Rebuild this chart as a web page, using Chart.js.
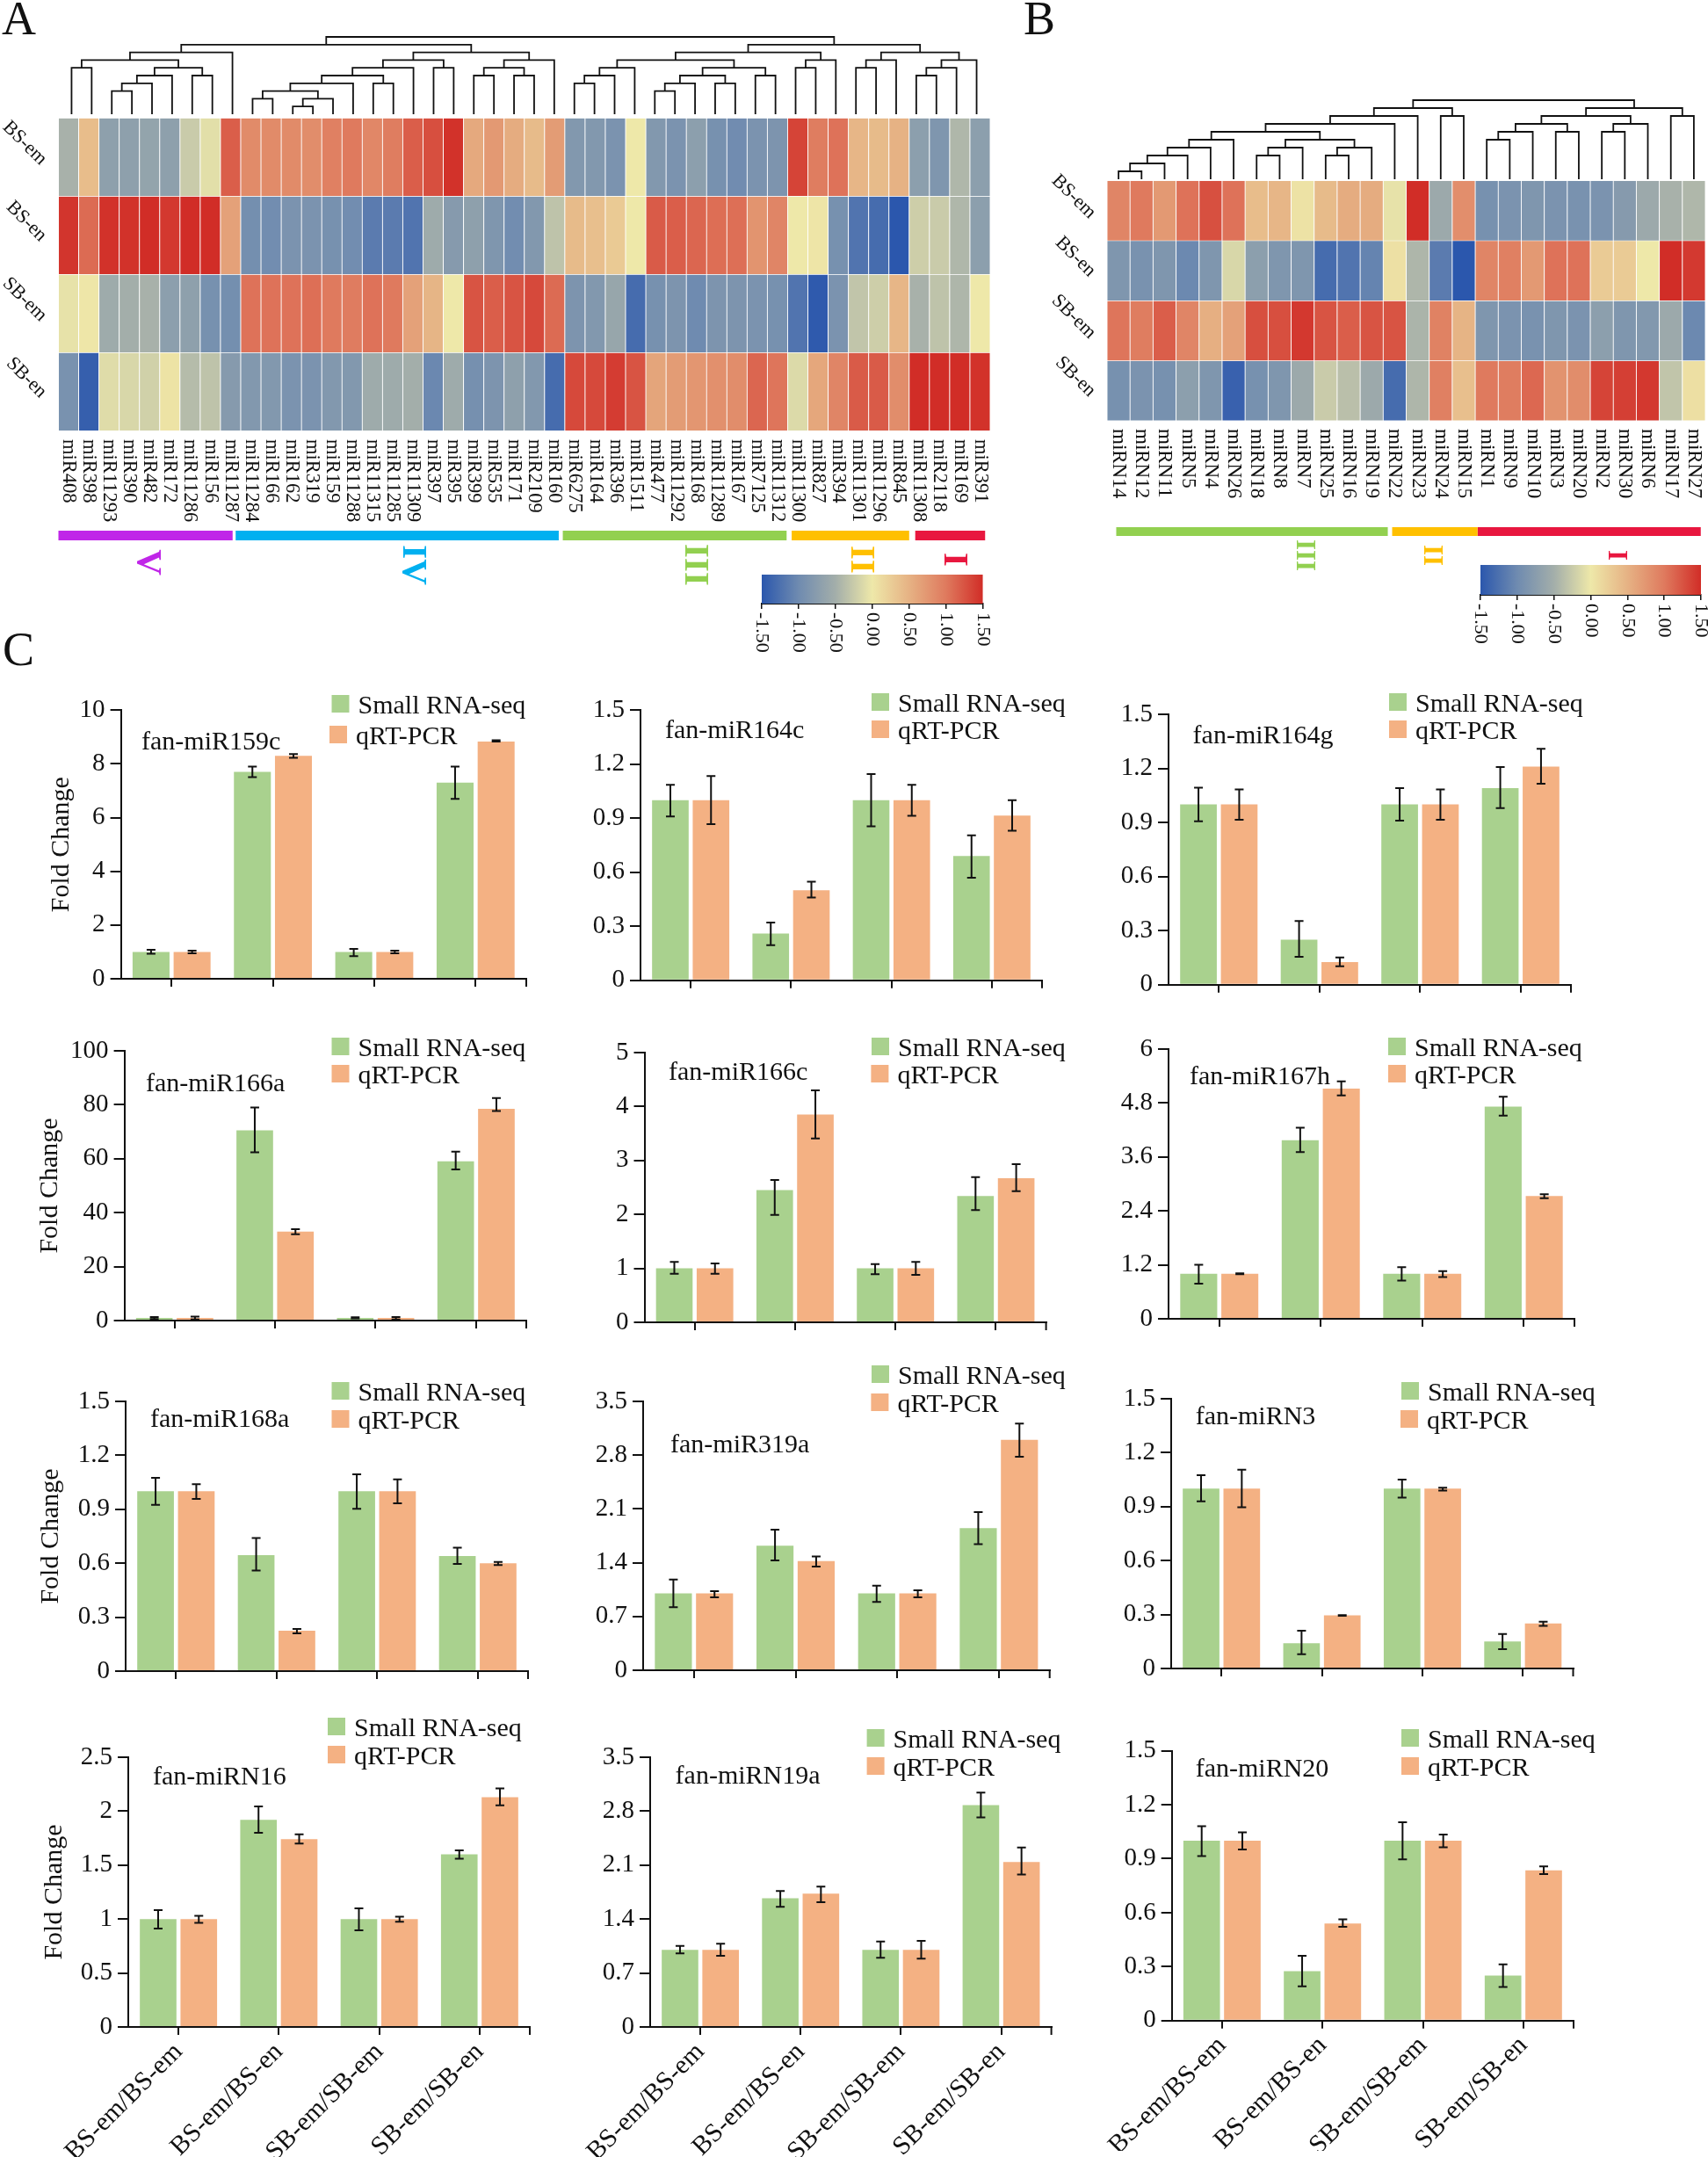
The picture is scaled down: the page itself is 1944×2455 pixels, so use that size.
<!DOCTYPE html>
<html>
<head>
    <title>miRNA heatmaps and qRT-PCR validation</title>
    <script src="https://cdn.jsdelivr.net/npm/chart.js"></script>
    <style>
        body { margin: 0; background: #fff; width: 1944px; height: 2455px; position: relative; overflow: hidden; }
        canvas { position: absolute; }
        .panel { position: absolute; font-family: "Liberation Serif", serif; font-size: 54px; line-height: 1; color: #111; }
    </style>
</head>
<body>
    <div class="panel" style="left:2px;top:-6px">A</div>
    <div class="panel" style="left:1165px;top:-6px">B</div>
    <div class="panel" style="left:3px;top:712px">C</div>

    <script>
        // heatmap A
        const rowNames = ['BS-em', 'BS-en', 'SB-em', 'SB-en'];
        const colsA = ['miR408','miR398','miR11293','miR390','miR482','miR172','miR11286','miR156','miR11287','miR11284','miR166','miR162','miR319','miR159','miR11288','miR11315','miR11285','miR11309','miR397','miR395','miR399','miR535','miR171','miR2109','miR160','miR6275','miR164','miR396','miR1511','miR477','miR11292','miR168','miR11289','miR167','miR7125','miR11312','miR11300','miR827','miR394','miR11301','miR11296','miR845','miR11308','miR2118','miR169','miR391'];
        const heatA_BSem = [-.47,.4,-.7,-.7,-.65,-.7,-.25,-.08,1.18,.85,.85,.85,.83,.95,1,.88,.97,1.18,1.28,1.47,.58,.72,.55,.42,.7,-.82,-.82,-.88,0,-.82,-.88,-.72,-.92,-.98,-.88,-.87,1.35,.97,1.05,.46,.42,.5,-.72,-.85,-.42,-.72];
        const heatA_BSen = [1.45,1.1,1.47,1.47,1.5,1.43,1.5,1.5,.65,-.95,-.97,-.88,-.88,-.92,-.97,-1.15,-1.15,-1.22,-.55,-.78,-.7,-.85,-.97,-.82,-.32,.42,.38,.28,0,1.2,1.18,1.13,1.08,1.07,.77,.9,0,.03,-.92,-1.22,-1.3,-1.5,-.22,-.25,-.42,-.72];
        const heatA_SBem = [-.05,.02,-.55,-.5,-.47,-.72,-.7,-.92,-.95,1.05,1.05,1.05,1.07,1,.98,1.05,1,.65,.47,0,1.25,1.18,1.25,1.32,1.1,-.87,-.82,-.62,-1.3,-.92,-.87,-1,-.87,-.87,-.88,-.92,-1.22,-1.47,-.88,-.3,-.22,.46,-.47,-.32,-.43,0];
        const heatA_SBen = [-.9,-1.42,-.1,-.15,-.2,.05,-.38,-.32,-.78,-.82,-.82,-.88,-.88,-.82,-.82,-.55,-.55,-.5,-1.03,-.55,-.93,-.87,-.7,-.82,-1.3,1.32,1.32,1.4,1.25,.62,.7,.75,.8,.83,1.13,1.03,-.12,.6,.9,1.2,1.2,.83,1.5,1.5,1.5,1.47];
        // merges are [left, right, level], leaves are column numbers
        const dendA_V = [[[0,1,6],[[[[2,3,3],4,4],5,5],[6,7,5],6],7],8,8];
        const dendA_IV = [[[[[[[9,10,2],[[11,12,1],13,2],3],14,4],[15,16,4],5],17,6],[18,19,6],7],[[[20,21,5],[22,23,5],6],24,7],8];
        const dendA_III = [[[[25,26,4],27,5],28,6],[[[[29,30,3],31,4],[32,33,4],5],[34,35,5],6],7];
        const dendA_II = [[36,37,6],38,7];
        const dendA_I = [[[39,40,6],41,7],[[[42,43,5],44,6],45,7],8];
        const dendA = [[dendA_V,dendA_IV,9],[[dendA_III,dendA_II,8],dendA_I,9],10];
        const dendMarksA = [{x:12.6,y:12.4},{x:37,y:12.4}];
        const groupNamesA = ['V','IV','III','II','I'];
        const groupColorsA = ['#c026e8','#00b0f0','#92d050','#ffc000','#e8173f'];
        const groupStartA = [0,8.75,24.9,36.2,42.3];
        const groupEndA = [8.6,24.7,35.95,42,45.75];
        const groupLabelColA = [4.4,17.5,31.4,39.6,44.2];

        // heatmap B
        const colsB = ['miRN14','miRN12','miRN11','miRN5','miRN4','miRN26','miRN18','miRN8','miRN7','miRN25','miRN16','miRN19','miRN22','miRN23','miRN24','miRN15','miRN1','miRN9','miRN10','miRN3','miRN20','miRN2','miRN30','miRN6','miRN17','miRN27'];
        const heatB_BSem = [.9,1,.72,1.05,1.27,1.05,.4,.46,.06,.42,.55,.55,-.05,1.5,-.57,.82,-.92,-.88,-.85,-.88,-.9,-.88,-.78,-.57,-.47,-.42];
        const heatB_BSen = [-.85,-.9,-.85,-1.02,-.85,-.15,-.72,-.85,-.85,-1.3,-1.22,-1.07,.07,-.43,-1.15,-1.5,.9,.95,.72,1.05,1.05,.27,.27,0,1.5,1.42];
        const heatB_SBem = [1.03,.97,1.18,.9,.53,.65,1.28,1.28,1.43,1.25,1.18,1.25,1.25,-.45,.93,.48,-.85,-.88,-.9,-.85,-.88,-.72,-.85,-.82,-.57,-1.02];
        const heatB_SBen = [-.92,-.88,-.92,-.72,-.85,-1.4,-.92,-.85,-.57,-.25,-.35,-.57,-1.3,-.43,.95,.38,1,.97,1.12,.78,.83,1.35,1.38,1.43,-.3,.08];
        const dendB_a = [[[[[0,1,1],2,2],3,3],4,4],5,5];
        const dendB_b = [[[6,7,3],8,4],[[9,10,3],11,4],5];
        const dendB_left = [[[[dendB_a,dendB_b,6],12,7],13,8],[14,15,8],9];
        const dendB_c = [[[16,17,5],18,6],[19,20,6],7];
        const dendB_d = [[21,22,6],23,7];
        const dendB_right = [[dendB_c,dendB_d,8],[24,25,8],9];
        const dendB = [dendB_left,dendB_right,10];
        const groupNamesB = ['III','II','I'];
        const groupColorsB = ['#92d050','#ffc000','#e8173f'];
        const groupStartB = [.4,12.39,16.1];
        const groupEndB = [12.2,16.1,25.8];
        const groupLabelColB = [8.55,14.1,22.1];

        // colour key
        const keyValues = [-1.5,-1,-.5,0,.5,1,1.5];
        const keyLabels = ['-1.50','-1.00','-0.50','0.00','0.50','1.00','1.50'];
        const keyColors = [[43,87,173],[111,139,176],[163,174,170],[238,232,169],[230,178,132],[223,122,94],[209,45,39]];

        // bar charts: mean fold change and whisker ends
        const ratioLabels = ['BS-em/BS-em','BS-em/BS-en','SB-em/SB-em','SB-em/SB-en'];
        const ticks10 = [0,2,4,6,8,10];
        const ticks15 = [0,.3,.6,.9,1.2,1.5];
        const ticks100 = [0,20,40,60,80,100];
        const ticks5 = [0,1,2,3,4,5];
        const ticks6 = [0,1.2,2.4,3.6,4.8,6];
        const ticks35 = [0,.7,1.4,2.1,2.8,3.5];
        const ticks25 = [0,.5,1,1.5,2,2.5];

        const miR159c_seq = [1,7.7,1,7.3];
        const miR159c_pcr = [1,8.3,1,8.83];
        const miR159c_seqErr = [[.93,1.08],[7.51,7.9],[.84,1.11],[6.7,7.9]];
        const miR159c_pcrErr = [[.95,1.05],[8.23,8.37],[.95,1.05],[8.83,8.88]];
        const miR164c_seq = [1,.26,1,.69];
        const miR164c_pcr = [1,.5,1,.915];
        const miR164c_seqErr = [[.91,1.085],[.195,.32],[.855,1.145],[.57,.805]];
        const miR164c_pcrErr = [[.867,1.134],[.46,.547],[.914,1.085],[.83,1]];
        const miR164g_seq = [1,.25,1,1.09];
        const miR164g_pcr = [1,.125,1,1.21];
        const miR164g_seqErr = [[.907,1.093],[.155,.353],[.91,1.09],[.98,1.208]];
        const miR164g_pcrErr = [[.915,1.083],[.102,.151],[.915,1.083],[1.115,1.309]];
        const miR166a_seq = [1,70.5,1,59];
        const miR166a_pcr = [1,33,1,78.5];
        const miR166a_seqErr = [[.6,1.3],[62.4,79],[.8,1.2],[56,62.6]];
        const miR166a_pcrErr = [[.4,1.5],[32,33.9],[.4,1.3],[77.7,82.5]];
        const miR166c_seq = [1,2.45,1,2.34];
        const miR166c_pcr = [1,3.85,1,2.67];
        const miR166c_seqErr = [[.9,1.12],[1.99,2.64],[.89,1.08],[2.08,2.69]];
        const miR166c_pcrErr = [[.9,1.09],[3.41,4.3],[.88,1.12],[2.43,2.93]];
        const miR167h_seq = [1,3.97,1,4.72];
        const miR167h_pcr = [1,5.12,1,2.73];
        const miR167h_seqErr = [[.78,1.2],[3.71,4.25],[.85,1.15],[4.52,4.94]];
        const miR167h_pcrErr = [[.99,1.01],[4.97,5.28],[.93,1.06],[2.68,2.77]];
        const miR168a_seq = [1,.645,1,.64];
        const miR168a_pcr = [1,.225,1,.6];
        const miR168a_seqErr = [[.925,1.075],[.56,.74],[.903,1.095],[.596,.686]];
        const miR168a_pcrErr = [[.958,1.04],[.21,.235],[.933,1.066],[.59,.607]];
        const miR319a_seq = [1,1.62,1,1.85];
        const miR319a_pcr = [1,1.42,1,3];
        const miR319a_seqErr = [[.82,1.18],[1.43,1.83],[.89,1.1],[1.64,2.06]];
        const miR319a_pcrErr = [[.95,1.03],[1.35,1.48],[.95,1.04],[2.78,3.21]];
        const miRN3_seq = [1,.14,1,.15];
        const miRN3_pcr = [1,.295,1,.25];
        const miRN3_seqErr = [[.93,1.075],[.08,.21],[.95,1.05],[.107,.192]];
        const miRN3_pcrErr = [[.896,1.105],[.293,.297],[.99,1.005],[.237,.26]];
        const miRN16_seq = [1,1.92,1,1.6];
        const miRN16_pcr = [1,1.74,1,2.13];
        const miRN16_seqErr = [[.912,1.083],[1.8,2.044],[.896,1.1],[1.56,1.637]];
        const miRN16_pcrErr = [[.964,1.03],[1.7,1.786],[.975,1.023],[2.055,2.21]];
        const miRN19a_seq = [1,1.67,1,2.88];
        const miRN19a_pcr = [1,1.73,1,2.14];
        const miRN19a_seqErr = [[.955,1.053],[1.56,1.764],[.897,1.11],[2.72,3.04]];
        const miRN19a_pcrErr = [[.924,1.08],[1.62,1.82],[.886,1.118],[1.977,2.33]];
        const miRN20_seq = [1,.275,1,.25];
        const miRN20_pcr = [1,.54,1,.835];
        const miRN20_seqErr = [[.915,1.081],[.19,.36],[.896,1.103],[.187,.313]];
        const miRN20_pcrErr = [[.951,1.046],[.521,.563],[.964,1.034],[.814,.857]];

        const SERIF = '"Liberation Serif", serif';
        const INK = '#111';
        const GREEN = '#a9d18e';
        const ORANGE = '#f4b183';

        Chart.defaults.animation = false;
        Chart.defaults.responsive = false;
        Chart.defaults.maintainAspectRatio = false;
        Chart.defaults.devicePixelRatio = 1;
        Chart.defaults.font.family = SERIF;
        Chart.defaults.plugins.legend.display = false;
        Chart.defaults.plugins.tooltip.enabled = false;

        // canvas around a plot area given in page pixels, margins leave room for text
        function addCanvas(area, m) {
            const left = Math.floor(area.l - m.l);
            const top = Math.floor(area.t - m.t);
            const canvas = document.createElement('canvas');
            canvas.width = Math.ceil(area.r + m.r - left);
            canvas.height = Math.ceil(area.b + m.b - top);
            canvas.style.left = left + 'px';
            canvas.style.top = top + 'px';
            document.body.appendChild(canvas);
            return {
                canvas, left, top,
                pad: {
                    left: area.l - left,
                    top: area.t - top,
                    right: canvas.width - (area.r - left),
                    bottom: canvas.height - (area.b - top)
                }
            };
        }

        function writeText(ctx, text, x, y, angle, font, color, align) {
            ctx.save();
            ctx.translate(x, y);
            ctx.rotate(angle);
            ctx.font = font + 'px ' + SERIF;
            ctx.fillStyle = color;
            ctx.textAlign = align;
            ctx.textBaseline = 'middle';
            ctx.fillText(text, 0, 0);
            ctx.restore();
        }

        function keyColor(v) {
            let i = 0;
            while (i < keyValues.length - 2 && v > keyValues[i + 1]) i++;
            const f = (v - keyValues[i]) / (keyValues[i + 1] - keyValues[i]);
            const c = keyColors[i].map((a, k) => Math.round(a + (keyColors[i + 1][k] - a) * f));
            return `rgb(${c[0]},${c[1]},${c[2]})`;
        }

        // turn the merge tree into one broken polyline
        function dendroPoints(tree) {
            const pts = [];
            function walk(node) {
                if (typeof node === 'number') return { x: node + 0.5, y: 0 };
                const a = walk(node[0]), b = walk(node[1]), h = node[2];
                pts.push({ x: a.x, y: a.y }, { x: a.x, y: h }, { x: b.x, y: h }, { x: b.x, y: b.y }, { x: NaN, y: NaN });
                return { x: (a.x + b.x) / 2, y: h };
            }
            walk(tree);
            return pts;
        }

        function drawHeatmap(cfg) {
            const box = addCanvas(cfg.area, { l: cfg.marginLeft, r: 3, t: 40, b: 125 });
            new Chart(box.canvas, {
                type: 'bar',
                data: {
                    labels: cfg.cols,
                    datasets: cfg.rows.map(values => ({
                        data: values.map(() => 1),
                        backgroundColor: values.map(keyColor),
                        borderColor: '#fff',
                        borderWidth: 0.8,
                        barPercentage: 1,
                        categoryPercentage: 1
                    }))
                },
                options: {
                    layout: { padding: box.pad },
                    scales: {
                        x: { display: false, stacked: true },
                        y: { display: false, stacked: true, min: 0, max: 4, reverse: true }
                    }
                },
                plugins: [{
                    id: 'heatText',
                    afterDraw(chart) {
                        const ctx = chart.ctx, x = chart.scales.x, y = chart.scales.y;
                        cfg.cols.forEach((name, i) => {
                            writeText(ctx, name, x.getPixelForValue(i), cfg.labelTop - box.top, Math.PI / 2, cfg.colFont, INK, 'left');
                        });
                        rowNames.forEach((name, i) => {
                            writeText(ctx, name, cfg.rowLabelX - box.left + (i % 2) * 2, y.getPixelForValue(i + 0.5) + cfg.rowLabelDy, Math.PI / 4, 22, INK, 'center');
                        });
                    }
                }]
            });

            const n = cfg.cols.length;
            const dendBox = addCanvas(cfg.dendArea, { l: 2, r: 2, t: 30, b: 3 });
            const dendSets = [{
                data: dendroPoints(cfg.tree), showLine: true, borderColor: INK, borderWidth: 1.8,
                pointRadius: 0, clip: false, borderJoinStyle: 'miter'
            }];
            if (cfg.marks) dendSets.push({ data: cfg.marks, pointStyle: 'line', rotation: 90, pointRadius: 3, borderColor: INK, borderWidth: 2, clip: false });
            new Chart(dendBox.canvas, {
                type: 'scatter',
                data: { datasets: dendSets },
                options: {
                    layout: { padding: dendBox.pad },
                    scales: {
                        x: { display: false, type: 'linear', min: 0, max: n },
                        y: { display: false, min: 0, max: 10 }
                    }
                }
            });

            const groupBox = addCanvas(cfg.groupArea, { l: 2, r: 2, t: 2, b: 60 });
            new Chart(groupBox.canvas, {
                type: 'scatter',
                data: {
                    datasets: cfg.groupNames.map((name, i) => ({
                        label: name,
                        data: [{ x: cfg.groupStart[i], y: 0.5 }, { x: cfg.groupEnd[i], y: 0.5 }],
                        showLine: true,
                        borderColor: cfg.groupColors[i],
                        borderWidth: cfg.groupArea.b - cfg.groupArea.t,
                        borderCapStyle: 'butt',
                        pointRadius: 0,
                        clip: false
                    }))
                },
                options: {
                    layout: { padding: groupBox.pad },
                    scales: {
                        x: { display: false, type: 'linear', min: 0, max: n },
                        y: { display: false, min: 0, max: 1 }
                    }
                },
                plugins: [{
                    id: 'groupText',
                    afterDraw(chart) {
                        cfg.groupNames.forEach((name, i) => {
                            writeText(chart.ctx, name, chart.scales.x.getPixelForValue(cfg.groupLabelCol[i]), cfg.groupLabelY[i] - groupBox.top, Math.PI / 2, 'bold ' + cfg.groupFont, cfg.groupColors[i], 'center');
                        });
                    }
                }]
            });
        }

        function drawKey(area) {
            const box = addCanvas(area, { l: 14, r: 14, t: 2, b: 56 });
            new Chart(box.canvas, {
                type: 'bar',
                data: {
                    labels: [''],
                    datasets: [{
                        data: [[keyValues[0], keyValues[keyValues.length - 1]]],
                        barPercentage: 1,
                        categoryPercentage: 1,
                        backgroundColor(c) {
                            const a = c.chart.chartArea;
                            if (!a) return GREEN;
                            const g = c.chart.ctx.createLinearGradient(a.left, 0, a.right, 0);
                            keyValues.forEach((v, i) => g.addColorStop(i / (keyValues.length - 1), keyColor(v)));
                            return g;
                        }
                    }]
                },
                options: {
                    indexAxis: 'y',
                    layout: { padding: { left: box.pad.left, right: box.pad.right, top: box.pad.top, bottom: 0 } },
                    scales: {
                        y: { display: false },
                        x: {
                            type: 'linear', min: -1.5, max: 1.5,
                            afterBuildTicks: s => { s.ticks = keyValues.map(v => ({ value: v })); },
                            afterFit: s => { s.height = box.pad.bottom; },
                            ticks: { display: false },
                            border: { color: INK, width: 2 },
                            grid: { drawOnChartArea: false, tickLength: 6, color: INK, lineWidth: 1.5 }
                        }
                    }
                },
                plugins: [{
                    id: 'keyText',
                    afterDraw(chart) {
                        keyValues.forEach((v, i) => {
                            writeText(chart.ctx, keyLabels[i], chart.scales.x.getPixelForValue(v), chart.chartArea.bottom + 10, Math.PI / 2, 22, INK, 'left');
                        });
                    }
                }]
            });
        }

        function drawBars(cfg) {
            const bottomRow = !!cfg.xLabels;
            const box = addCanvas(cfg.area, { l: 122, r: 40, t: 62, b: bottomRow ? 148 : 40 });
            new Chart(box.canvas, {
                type: 'bar',
                data: {
                    labels: ratioLabels,
                    datasets: [
                        { label: 'Small RNA-seq', data: cfg.seq, backgroundColor: GREEN, err: cfg.seqErr, barPercentage: 0.9, categoryPercentage: 0.81 },
                        { label: 'qRT-PCR', data: cfg.pcr, backgroundColor: ORANGE, err: cfg.pcrErr, barPercentage: 0.9, categoryPercentage: 0.81 }
                    ]
                },
                options: {
                    layout: { padding: { left: 0, bottom: 0, top: box.pad.top, right: box.pad.right } },
                    scales: {
                        x: {
                            afterFit: s => { s.height = box.pad.bottom; },
                            border: { color: INK, width: 2 },
                            grid: { drawOnChartArea: false, offset: false, tickLength: 9, color: INK, lineWidth: 2 },
                            ticks: {
                                display: bottomRow, autoSkip: false, minRotation: 45, maxRotation: 45,
                                font: { size: 30 }, color: INK, padding: 2
                            }
                        },
                        y: {
                            min: 0, max: cfg.ticks[cfg.ticks.length - 1],
                            afterBuildTicks: s => { s.ticks = cfg.ticks.map(v => ({ value: v })); },
                            afterFit: s => { s.width = box.pad.left; },
                            border: { color: INK, width: 2 },
                            grid: { drawOnChartArea: false, tickLength: 12, color: INK, lineWidth: 2 },
                            ticks: { font: { size: 29 }, color: INK, padding: 6, callback: v => String(v) },
                            title: {
                                display: !!cfg.yTitleX, text: 'Fold Change', color: INK, font: { size: 30 },
                                padding: { top: cfg.yTitleX ? cfg.yTitleX - box.left - 18 : 0, bottom: 0 }
                            }
                        }
                    }
                },
                plugins: [{
                    id: 'barExtras',
                    afterDatasetsDraw(chart) {
                        const ctx = chart.ctx, y = chart.scales.y;
                        ctx.save();
                        ctx.strokeStyle = INK;
                        ctx.lineWidth = 2;
                        chart.data.datasets.forEach((ds, d) => {
                            chart.getDatasetMeta(d).data.forEach((bar, i) => {
                                const lo = y.getPixelForValue(ds.err[i][0]), hi = y.getPixelForValue(ds.err[i][1]);
                                ctx.beginPath();
                                ctx.moveTo(bar.x, lo); ctx.lineTo(bar.x, hi);
                                ctx.moveTo(bar.x - 5, lo); ctx.lineTo(bar.x + 5, lo);
                                ctx.moveTo(bar.x - 5, hi); ctx.lineTo(bar.x + 5, hi);
                                ctx.stroke();
                            });
                        });
                        ctx.restore();
                    },
                    afterDraw(chart) {
                        const ctx = chart.ctx, a = chart.chartArea;
                        ctx.save();
                        ctx.strokeStyle = INK;
                        ctx.lineWidth = 2;
                        ctx.beginPath();
                        ctx.moveTo(a.right, a.bottom);
                        ctx.lineTo(a.right, a.bottom + 9);
                        ctx.stroke();
                        ctx.restore();
                        writeText(ctx, cfg.name, cfg.titleAt[0] - box.left, cfg.titleAt[1] - box.top + 1, 0, 30, INK, 'left');
                        [GREEN, ORANGE].forEach((color, i) => {
                            const sx = cfg.legendX[i] - box.left, sy = cfg.legendY[i] - box.top;
                            ctx.fillStyle = color;
                            ctx.fillRect(sx, sy, 20, 20);
                            writeText(ctx, chart.data.datasets[i].label, sx + 30, sy + 13, 0, 30, INK, 'left');
                        });
                    }
                }]
            });
        }

        drawHeatmap({
            cols: colsA, rows: [heatA_BSem, heatA_BSen, heatA_SBem, heatA_SBen], tree: dendA, marks: dendMarksA,
            area: { l: 66.5, r: 1127, t: 134.5, b: 490.4 }, dendArea: { l: 66.5, r: 1127, t: 42, b: 133 },
            marginLeft: 66, labelTop: 500, colFont: 22.5, rowLabelX: 28, rowLabelDy: -16,
            groupNames: groupNamesA, groupColors: groupColorsA, groupStart: groupStartA, groupEnd: groupEndA,
            groupLabelCol: groupLabelColA, groupLabelY: [640, 643, 643, 637, 637], groupFont: 41,
            groupArea: { l: 66.5, r: 1127, t: 604, b: 615 }
        });
        drawHeatmap({
            cols: colsB, rows: [heatB_BSem, heatB_BSen, heatB_SBem, heatB_SBen], tree: dendB,
            area: { l: 1260, r: 1941, t: 205.8, b: 479 }, dendArea: { l: 1260, r: 1941, t: 114, b: 204 },
            marginLeft: 80, labelTop: 488, colFont: 23, rowLabelX: 1222, rowLabelDy: -16,
            groupNames: groupNamesB, groupColors: groupColorsB, groupStart: groupStartB, groupEnd: groupEndB,
            groupLabelCol: groupLabelColB, groupLabelY: [632, 632, 632], groupFont: 31,
            groupArea: { l: 1260, r: 1941, t: 600, b: 610 }
        });
        drawKey({ l: 867, r: 1118.6, t: 654, b: 687 });
        drawKey({ l: 1685, r: 1936, t: 643, b: 677 });

        drawBars({ name: 'fan-miR159c', seq: miR159c_seq, pcr: miR159c_pcr, seqErr: miR159c_seqErr, pcrErr: miR159c_pcrErr, ticks: ticks10,
            area: { l: 137.6, r: 599, t: 808.3, b: 1114 }, titleAt: [161, 844], legendX: [377.5, 375], legendY: [791, 826], yTitleX: 70 });
        drawBars({ name: 'fan-miR164c', seq: miR164c_seq, pcr: miR164c_pcr, seqErr: miR164c_seqErr, pcrErr: miR164c_pcrErr, ticks: ticks15,
            area: { l: 729, r: 1186, t: 808.3, b: 1115.7 }, titleAt: [757, 831], legendX: [992, 992], legendY: [789, 820] });
        drawBars({ name: 'fan-miR164g', seq: miR164g_seq, pcr: miR164g_pcr, seqErr: miR164g_seqErr, pcrErr: miR164g_pcrErr, ticks: ticks15,
            area: { l: 1330, r: 1788, t: 813, b: 1120.7 }, titleAt: [1357.6, 837], legendX: [1581, 1581], legendY: [789, 820] });
        drawBars({ name: 'fan-miR166a', seq: miR166a_seq, pcr: miR166a_pcr, seqErr: miR166a_seqErr, pcrErr: miR166a_pcrErr, ticks: ticks100,
            area: { l: 141.6, r: 599, t: 1196, b: 1503 }, titleAt: [166, 1233], legendX: [377.5, 377.5], legendY: [1181, 1212], yTitleX: 57 });
        drawBars({ name: 'fan-miR166c', seq: miR166c_seq, pcr: miR166c_pcr, seqErr: miR166c_seqErr, pcrErr: miR166c_pcrErr, ticks: ticks5,
            area: { l: 733.5, r: 1190.6, t: 1198, b: 1505 }, titleAt: [761, 1220], legendX: [992, 991.4], legendY: [1181, 1212] });
        drawBars({ name: 'fan-miR167h', seq: miR167h_seq, pcr: miR167h_pcr, seqErr: miR167h_seqErr, pcrErr: miR167h_pcrErr, ticks: ticks6,
            area: { l: 1330, r: 1792, t: 1194, b: 1501 }, titleAt: [1354, 1225], legendX: [1580, 1580], legendY: [1181, 1212] });
        drawBars({ name: 'fan-miR168a', seq: miR168a_seq, pcr: miR168a_pcr, seqErr: miR168a_seqErr, pcrErr: miR168a_pcrErr, ticks: ticks15,
            area: { l: 143, r: 601, t: 1595, b: 1902 }, titleAt: [171, 1615], legendX: [377.5, 377.5], legendY: [1573, 1605], yTitleX: 58 });
        drawBars({ name: 'fan-miR319a', seq: miR319a_seq, pcr: miR319a_pcr, seqErr: miR319a_seqErr, pcrErr: miR319a_pcrErr, ticks: ticks35,
            area: { l: 732, r: 1194.7, t: 1595, b: 1901 }, titleAt: [763, 1644], legendX: [992, 991.4], legendY: [1554, 1586] });
        drawBars({ name: 'fan-miRN3', seq: miRN3_seq, pcr: miRN3_pcr, seqErr: miRN3_seqErr, pcrErr: miRN3_pcrErr, ticks: ticks15,
            area: { l: 1333, r: 1790.5, t: 1592, b: 1899 }, titleAt: [1360.7, 1612.5], legendX: [1595, 1594], legendY: [1573, 1605] });
        drawBars({ name: 'fan-miRN16', seq: miRN16_seq, pcr: miRN16_pcr, seqErr: miRN16_seqErr, pcrErr: miRN16_pcrErr, ticks: ticks25,
            area: { l: 146, r: 603, t: 2000, b: 2307 }, titleAt: [174, 2022], legendX: [373, 373], legendY: [1955, 1987], yTitleX: 62, xLabels: true });
        drawBars({ name: 'fan-miRN19a', seq: miRN19a_seq, pcr: miRN19a_pcr, seqErr: miRN19a_seqErr, pcrErr: miRN19a_pcrErr, ticks: ticks35,
            area: { l: 740, r: 1196.6, t: 2000, b: 2307 }, titleAt: [768.6, 2021], legendX: [986.6, 986.6], legendY: [1968, 2000], xLabels: true });
        drawBars({ name: 'fan-miRN20', seq: miRN20_seq, pcr: miRN20_pcr, seqErr: miRN20_seqErr, pcrErr: miRN20_pcrErr, ticks: ticks15,
            area: { l: 1333.7, r: 1791, t: 1992.7, b: 2299.7 }, titleAt: [1360.7, 2013], legendX: [1595, 1595], legendY: [1968, 2000], xLabels: true });
    </script>
</body>
</html>
